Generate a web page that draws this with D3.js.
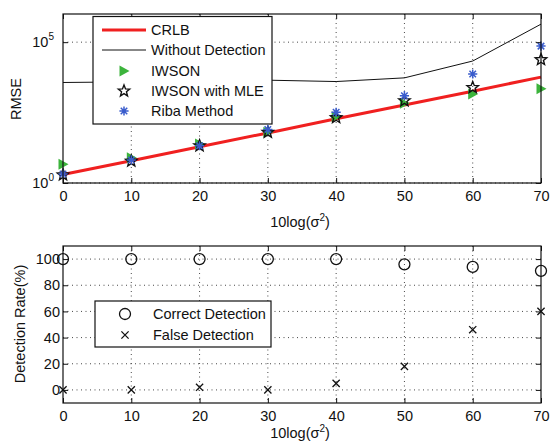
<!DOCTYPE html>
<html><head><meta charset="utf-8">
<script src="https://cdn.jsdelivr.net/npm/d3@7"></script>
<style>
body{margin:0;background:#fff;}
text{font-family:"Liberation Sans",Arial,Helvetica,sans-serif;}
</style></head>
<body><svg id="c" width="553" height="443"></svg>
<script>
// ---- data ----
const snr = [0, 10, 20, 30, 40, 50, 60, 70];
const crlb = [2.0, 6.2, 19.4, 60, 190, 590, 1820, 5750];
const withoutDetection = [3700, 3900, 4200, 4470, 4000, 5400, 21400, 436000];
const iwson = [4.6, 7.8, 24, 63, 224, 676, 1450, 2200];
const iwsonMle = [1.95, 6.0, 21, 63, 209, 832, 2450, 24000];
const riba = [2.1, 6.6, 21, 79, 324, 1260, 7400, 72400];
const correctDetection = [100, 100, 100, 100, 100, 96, 94, 91];
const falseDetection = [0, 0, 2, 0, 5, 18, 46, 60];
const xTicks = [0, 10, 20, 30, 40, 50, 60, 70];
const rmseTicks = [1, 1e5];
const rmseTickExp = ["0", "5"];
const rateTicks = [0, 20, 40, 60, 80, 100];

const svg = d3.select("#c");
const FS = 14.5;
const L = 63, R = 541;
const top1 = 14, bot1 = 183, top2 = 246, bot2 = 403;

const x = d3.scaleLinear().domain([0, 70]).range([L, R]);
const y1 = d3.scaleLog().domain([1, 1e6]).range([bot1, top1]);
const y2 = d3.scaleLinear().domain([-10, 110]).range([bot2, top2]);

const gridStyle = s => s.attr("stroke", "#333").attr("stroke-width", 0.9).attr("stroke-dasharray", "1,3.5");

function frame(top, bot) {
  svg.append("rect").attr("x", L).attr("y", top).attr("width", R - L).attr("height", bot - top)
    .attr("fill", "none").attr("stroke", "#111").attr("stroke-width", 1.2);
}

// ---------- TOP PLOT ----------
const g1 = svg.append("g");
g1.selectAll(".vg").data(xTicks.filter(d => d > 0 && d < 70)).join("line")
  .attr("x1", d => x(d)).attr("x2", d => x(d)).attr("y1", top1).attr("y2", bot1).call(gridStyle);
g1.selectAll(".hg").data(rmseTicks).join("line")
  .attr("x1", L).attr("x2", R).attr("y1", d => y1(d)).attr("y2", d => y1(d)).call(gridStyle);

svg.append("g").attr("transform", `translate(0,${bot1})`)
  .call(d3.axisBottom(x).tickValues(xTicks).tickSize(-5).tickPadding(8));
svg.append("g").attr("transform", `translate(0,${top1})`)
  .call(d3.axisTop(x).tickValues(xTicks).tickSize(-5).tickFormat(""));
svg.append("g").attr("transform", `translate(${L},0)`)
  .call(d3.axisLeft(y1).tickValues(rmseTicks).tickSize(-5).tickFormat(""));
svg.append("g").attr("transform", `translate(${R},0)`)
  .call(d3.axisRight(y1).tickValues(rmseTicks).tickSize(-5).tickFormat(""));
rmseTicks.forEach((t, i) => {
  const tx = svg.append("text").attr("x", 54).attr("y", y1(t) + 5).attr("text-anchor", "end")
    .attr("font-size", FS).attr("fill", "#111");
  tx.append("tspan").text("10");
  tx.append("tspan").attr("dy", -7).attr("font-size", 10).text(rmseTickExp[i]);
});

const line = d3.line().x((d, i) => x(snr[i])).y(d => y1(d));
g1.append("path").datum(withoutDetection).attr("d", line).attr("fill", "none")
  .attr("stroke", "#111").attr("stroke-width", 1);
g1.append("path").datum(crlb).attr("d", line).attr("fill", "none")
  .attr("stroke", "#f02020").attr("stroke-width", 3);

const triPath = "M-4.5,-5.5 L5.5,0 L-4.5,5.5 Z";
const starPath = (() => {
  const pts = [];
  for (let k = 0; k < 10; k++) {
    const r = k % 2 === 0 ? 6.0 : 2.6;
    const a = -Math.PI / 2 + k * Math.PI / 5;
    pts.push([r * Math.cos(a), r * Math.sin(a)]);
  }
  return "M" + pts.map(p => p.join(",")).join("L") + "Z";
})();
const astPath = (() => {
  let s = "";
  const r = 4.6;
  for (let k = 0; k < 4; k++) {
    const a = k * Math.PI / 4;
    s += `M${-r * Math.cos(a)},${-r * Math.sin(a)}L${r * Math.cos(a)},${r * Math.sin(a)}`;
  }
  return s;
})();
const GREEN = "#3cb43c", BLUE = "#3a5ccc";

function drawTri(g, cx, cy) {
  g.append("path").attr("d", triPath).attr("transform", `translate(${cx},${cy})`).attr("fill", GREEN);
}
function drawStar(g, cx, cy) {
  g.append("path").attr("d", starPath).attr("transform", `translate(${cx},${cy})`)
    .attr("fill", "none").attr("stroke", "#111").attr("stroke-width", 1.4).attr("stroke-linejoin", "miter");
}
function drawAst(g, cx, cy) {
  g.append("path").attr("d", astPath).attr("transform", `translate(${cx},${cy})`)
    .attr("fill", "none").attr("stroke", BLUE).attr("stroke-width", 1.5);
}

iwson.forEach((v, i) => drawTri(g1, x(snr[i]), y1(v)));
iwsonMle.forEach((v, i) => drawStar(g1, x(snr[i]), y1(v)));
riba.forEach((v, i) => drawAst(g1, x(snr[i]), y1(v)));

frame(top1, bot1);

const lg = svg.append("g");
lg.append("rect").attr("x", 93).attr("y", 16.5).attr("width", 179).attr("height", 107.5)
  .attr("fill", "#fff").attr("stroke", "#111").attr("stroke-width", 1.2);
const legY = [30, 50, 71, 91, 111];
const legNames = ["CRLB", "Without Detection", "IWSON", "IWSON with MLE", "Riba Method"];
lg.append("line").attr("x1", 102).attr("x2", 146).attr("y1", legY[0]).attr("y2", legY[0])
  .attr("stroke", "#f02020").attr("stroke-width", 3);
lg.append("line").attr("x1", 102).attr("x2", 146).attr("y1", legY[1]).attr("y2", legY[1])
  .attr("stroke", "#111").attr("stroke-width", 1);
drawTri(lg, 124, legY[2]);
drawStar(lg, 124, legY[3]);
drawAst(lg, 124, legY[4]);
legNames.forEach((n, i) => lg.append("text").attr("x", 151).attr("y", legY[i] + 5)
  .attr("font-size", FS).attr("fill", "#111").text(n));

svg.append("text").attr("transform", `translate(21,99) rotate(-90)`).attr("text-anchor", "middle")
  .attr("font-size", FS).attr("fill", "#111").text("RMSE");
function xLabel(yb) {
  const t = svg.append("text").attr("x", 300).attr("y", yb).attr("text-anchor", "middle")
    .attr("font-size", FS).attr("fill", "#111");
  t.append("tspan").text("10log(σ");
  t.append("tspan").attr("dy", -6).attr("font-size", 10).text("2");
  t.append("tspan").attr("dy", 6).text(")");
}
xLabel(227);

// ---------- BOTTOM PLOT ----------
const g2 = svg.append("g");
g2.selectAll(".vg").data(xTicks.filter(d => d > 0 && d < 70)).join("line")
  .attr("x1", d => x(d)).attr("x2", d => x(d)).attr("y1", top2).attr("y2", bot2).call(gridStyle);
g2.selectAll(".hg").data(rateTicks).join("line")
  .attr("x1", L).attr("x2", R).attr("y1", d => y2(d)).attr("y2", d => y2(d)).call(gridStyle);

svg.append("g").attr("transform", `translate(0,${bot2})`)
  .call(d3.axisBottom(x).tickValues(xTicks).tickSize(-5).tickPadding(8));
svg.append("g").attr("transform", `translate(0,${top2})`)
  .call(d3.axisTop(x).tickValues(xTicks).tickSize(-5).tickFormat(""));
svg.append("g").attr("transform", `translate(${L},0)`)
  .call(d3.axisLeft(y2).tickValues(rateTicks).tickSize(-5).tickPadding(3));
svg.append("g").attr("transform", `translate(${R},0)`)
  .call(d3.axisRight(y2).tickValues(rateTicks).tickSize(-5).tickFormat(""));

function drawCircle(g, cx, cy) {
  g.append("circle").attr("cx", cx).attr("cy", cy).attr("r", 5.5)
    .attr("fill", "none").attr("stroke", "#111").attr("stroke-width", 1.3);
}
function drawX(g, cx, cy) {
  const s = 3.6;
  g.append("path").attr("d", `M${-s},${-s}L${s},${s}M${-s},${s}L${s},${-s}`)
    .attr("transform", `translate(${cx},${cy})`).attr("stroke", "#111").attr("stroke-width", 1.3);
}
correctDetection.forEach((v, i) => drawCircle(g2, x(snr[i]), y2(v)));
falseDetection.forEach((v, i) => drawX(g2, x(snr[i]), y2(v)));

frame(top2, bot2);

const lg2 = svg.append("g");
lg2.append("rect").attr("x", 95).attr("y", 301).attr("width", 176).attr("height", 46)
  .attr("fill", "#fff").attr("stroke", "#111").attr("stroke-width", 1.2);
drawCircle(lg2, 125, 314);
drawX(lg2, 125, 335);
lg2.append("text").attr("x", 153).attr("y", 319).attr("font-size", FS).attr("fill", "#111").text("Correct Detection");
lg2.append("text").attr("x", 153).attr("y", 340).attr("font-size", FS).attr("fill", "#111").text("False Detection");

svg.append("text").attr("transform", `translate(24.5,324) rotate(-90)`).attr("text-anchor", "middle")
  .attr("font-size", FS).attr("fill", "#111").text("Detection Rate(%)");
xLabel(438);

svg.selectAll(".domain").remove();
svg.selectAll(".tick line").attr("stroke", "#111").attr("stroke-width", 1);
svg.selectAll(".tick text").attr("font-size", FS).attr("fill", "#111")
  .attr("font-family", "'Liberation Sans',Arial,sans-serif");
</script></body></html>
